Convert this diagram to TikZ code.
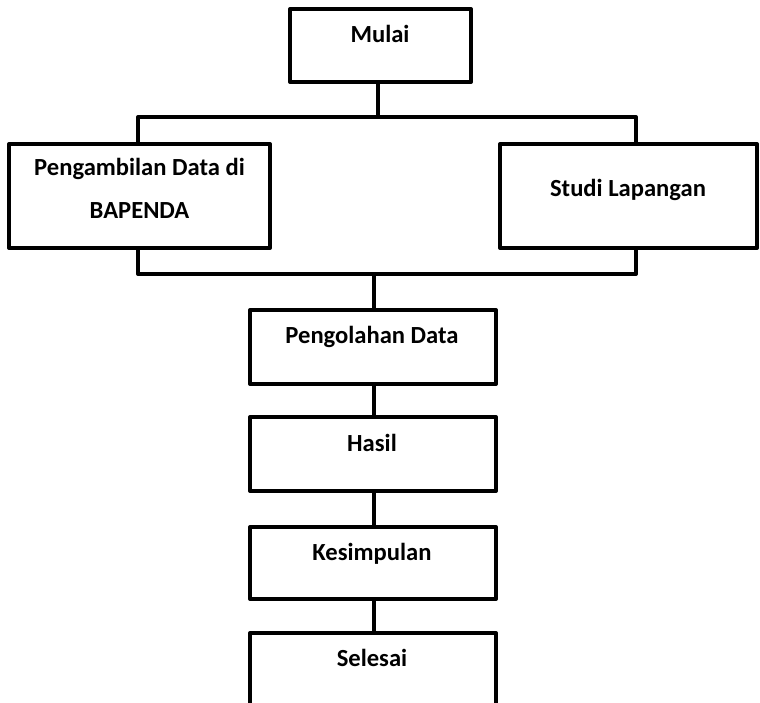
\documentclass[tikz,border=0pt]{standalone}
\usepackage{fontspec}
\setmainfont{Carlito}
\begin{document}
\begin{tikzpicture}[x=1pt,y=-1pt,
  box/.style={draw=black,line width=4pt,fill=white,rectangle,inner sep=0pt,line join=round},
  lbl/.style={anchor=base,inner sep=0pt,font=\fontsize{24.6}{28}\selectfont\bfseries,text=black},
  conn/.style={draw=black,line width=4pt}]
\useasboundingbox (0,0) rectangle (760,703);
\clip (0,0) rectangle (760,703);
% bracket frame
\node[box,fill=none,minimum width=498pt,minimum height=157pt] (frame) at (387,195.5) {};
\coordinate (topc) at (378,117);
\coordinate (botc) at (374,274);
% boxes
\node[box,minimum width=181pt,minimum height=73pt] (mulai) at (380.5,45.5) {};
\node[box,minimum width=261pt,minimum height=104pt] (ambil) at (139.5,196) {};
\node[box,minimum width=257pt,minimum height=104pt] (studi) at (628.5,196) {};
\node[box,minimum width=246pt,minimum height=74pt] (olah) at (373,347) {};
\node[box,minimum width=246pt,minimum height=74pt] (hasil) at (373,454) {};
\node[box,minimum width=246pt,minimum height=72pt] (kes) at (373,563) {};
\node[box,minimum width=246pt,minimum height=77pt] (sel) at (373,671.5) {};
% texts
\node[lbl] (tmulai) at (380,43) {Mulai};
\node[lbl] (tambil1) at (139.5,176) {Pengambilan Data di};
\node[lbl] (tambil2) at (139.5,219) {BAPENDA};
\node[lbl] (tstudi) at (628,197) {Studi Lapangan};
\node[lbl] (tolah) at (372,343) {Pengolahan Data};
\node[lbl] (thasil) at (372,451) {Hasil};
\node[lbl] (tkes) at (372,560) {Kesimpulan};
\node[lbl] (tsel) at (372,666) {Selesai};
% connectors
\draw[conn] (mulai.south -| topc) -- (topc);
\draw[conn] (botc) -- (olah.north -| botc);
\draw[conn] (olah.south -| botc) -- (hasil.north -| botc);
\draw[conn] (hasil.south -| botc) -- (kes.north -| botc);
\draw[conn] (kes.south -| botc) -- (sel.north -| botc);
\end{tikzpicture}
\end{document}
